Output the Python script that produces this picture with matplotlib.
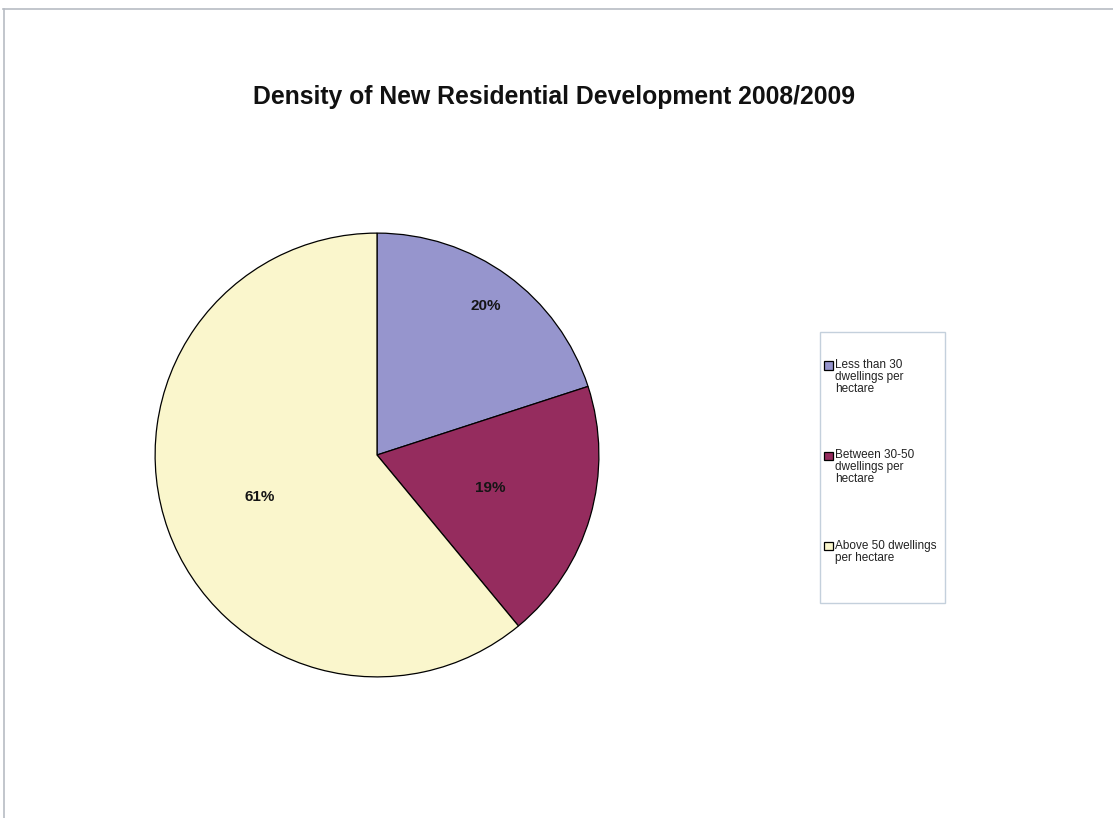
import matplotlib.pyplot as plt
from matplotlib.legend_handler import HandlerPatch
from matplotlib.lines import Line2D
from matplotlib.patches import Rectangle

plt.rcParams["font.family"] = ["Liberation Sans", "DejaVu Sans"]

# %% Data

categories = [
    "Less than 30\ndwellings per\nhectare",
    "Between 30-50\ndwellings per\nhectare",
    "Above 50 dwellings\nper hectare",
]
shares = [20, 19, 61]
colors = ["#9695cd", "#952c5e", "#faf6cc"]
label_dist = [0.83, 0.53, 0.56]

# %% Figure

fig = plt.figure(figsize=(11.13, 8.18), dpi=100)
W, H = 1113, 818

# page frame lines
fig.add_artist(Line2D([3 / W, 1], [1 - 9 / H, 1 - 9 / H], color="#b8bcc4", lw=1.2))
fig.add_artist(Line2D([4 / W, 4 / W], [0, 1 - 9 / H], color="#b8bcc4", lw=1.2))

fig.text(554 / W, 1 - 97 / H, "Density of New Residential Development 2008/2009",
         ha="center", va="center", fontsize=17.8, fontweight="bold", color="#111111")

# pie axes: centre (377, 455), radius 223 px
cx, cy, r = 377, 455, 223
ax = fig.add_axes([(cx - r) / W, (H - cy - r) / H, 2 * r / W, 2 * r / H])
wedges, texts, autotexts = ax.pie(
    shares,
    colors=colors,
    startangle=90,
    counterclock=False,
    autopct="%d%%",
    pctdistance=0.6,
    wedgeprops=dict(edgecolor="black", linewidth=0.9),
    textprops=dict(fontsize=11, fontweight="bold", color="#151515"),
)
for t, d in zip(autotexts, label_dist):
    x, y = t.get_position()
    s = d / 0.6
    t.set_position((x * s, y * s))
ax.set_xlim(-1.005, 1.005)
ax.set_ylim(-1.005, 1.005)
ax.set_aspect("equal")

# legend: handle sits on the first line of each label
fs = 8.5
line_sp = 1.0
line_h = 8.6  # points between baselines
nlines = {id(w): lab.count("\n") + 1 for w, lab in zip(wedges, categories)}


def top_patch(legend, orig_handle, xdescent, ydescent, width, height, fontsize):
    off = (nlines[id(orig_handle)] - 1) / 2 * line_h
    return Rectangle((-xdescent, -ydescent + off), width, height)


fig.add_artist(Rectangle((820 / W, 1 - 603 / H), 125 / W, 271 / H,
                         transform=fig.transFigure, fill=False,
                         edgecolor="#c4d0dc", lw=1.0))
leg = fig.legend(
    wedges, categories,
    loc="upper left",
    bbox_to_anchor=(824 / W, 1 - 359 / H),
    frameon=False,
    fontsize=fs,
    handlelength=0.72,
    handleheight=0.72,
    handletextpad=0.2,
    labelspacing=4.6,
    borderpad=0.0,
    borderaxespad=0.0,
    handler_map={w: HandlerPatch(patch_func=top_patch) for w in wedges},
)
for t in leg.get_texts():
    t.set_color("#222222")
    t.set_linespacing(line_sp)

fig.savefig("out.png", dpi=100, facecolor="white")
